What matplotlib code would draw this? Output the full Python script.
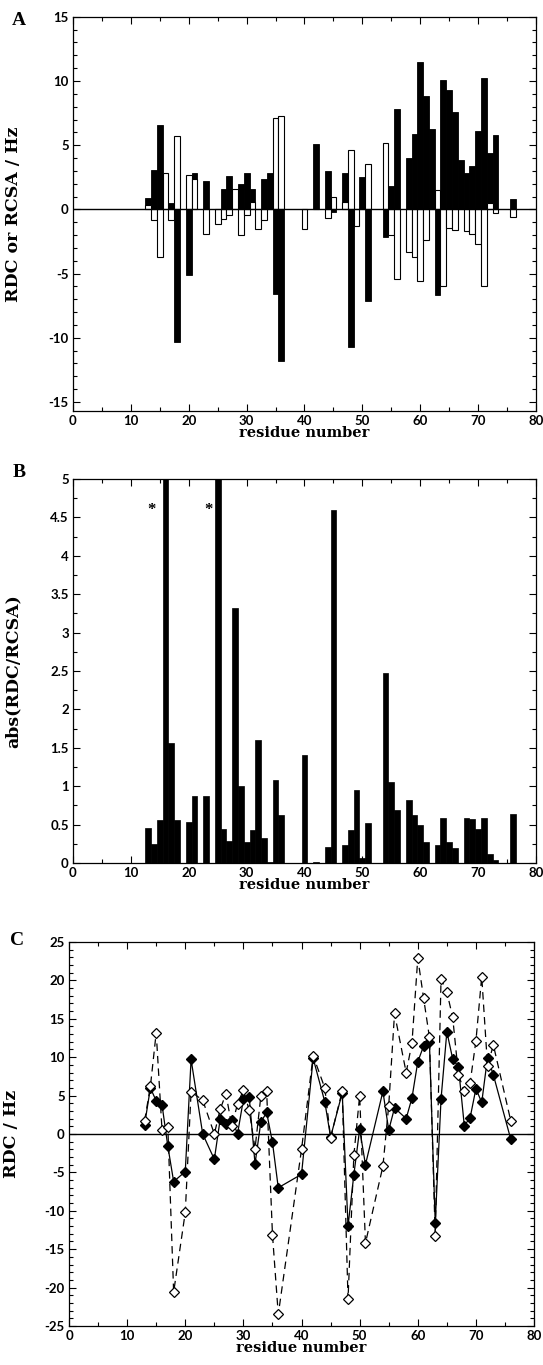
import numpy as np
import matplotlib
matplotlib.use("Agg")
import matplotlib.pyplot as plt
from matplotlib.ticker import MultipleLocator, FormatStrFormatter

# panel A: RDC (black) and RCSA (white) per residue
res_a = [13, 14, 15, 16, 17, 18, 20, 21, 23, 25, 26, 27, 28, 29, 30, 31, 32, 33, 34, 35, 36,
         40, 42, 44, 45, 47, 48, 49, 50, 51, 54, 55, 56, 58, 59, 60, 61, 62, 63, 64, 65, 66,
         67, 68, 69, 70, 71, 72, 73, 76]
rdc_a = [0.86, 3.1, 6.6, 0.0, 0.5, -10.3, -5.1, 2.8, 2.2, 0.0, 1.6, 2.6, 0.0, 2.0, 2.85, 1.55, 0.0, 2.4, 2.8, -6.6, -11.8,
         0.0, 5.1, 3.0, -0.23, 2.8, -10.75, 0.0, 2.5, -7.1, -2.15, 1.85, 7.8, 4.0, 5.9, 11.45, 8.8, 6.3, -6.7, 10.1, 9.3, 7.6,
         3.85, 2.8, 3.35, 6.1, 10.2, 4.4, 5.8, 0.83]
rcsa_a = [0.34, -0.8, -3.7, 2.8, -0.8, 5.7, 2.7, 2.4, -1.9, -1.1, -0.75, -0.45, 1.6, -2.0, -0.45, 0.6, -1.5, -0.86, 0.0, 7.1, 7.3,
          -1.5, 0.0, -0.65, 0.93, 0.6, 4.65, -1.3, 0.0, 3.56, 5.2, -2.0, -5.4, -3.3, -3.7, -5.6, -2.35, 0.0, 1.5, -6.0, -1.45, -1.6,
          0.0, -1.65, -1.95, -2.7, -6.0, 0.5, -0.25, -0.6]

# panel B: abs(RDC/RCSA)
res_b = [13, 14, 15, 16, 17, 18, 20, 21, 23, 25, 26, 27, 28, 29, 30, 31, 32, 33, 34, 35, 36,
         40, 42, 44, 45, 47, 48, 49, 50, 51, 54, 55, 56, 58, 59, 60, 61, 63, 64, 65, 66,
         68, 69, 70, 71, 72, 73, 76]
ratio_b = [0.455, 0.25, 0.555, 6.0, 1.56, 0.555, 0.53, 0.87, 0.87, 6.0, 0.44, 0.29, 3.32, 1.0, 0.27, 0.425, 1.6, 0.33, 0.01, 1.08, 0.62,
           1.4, 0.013, 0.21, 4.6, 0.23, 0.43, 0.95, 0.07, 0.52, 2.47, 1.06, 0.69, 0.82, 0.62, 0.49, 0.27, 0.23, 0.59, 0.27, 0.2,
           0.59, 0.57, 0.44, 0.58, 0.12, 0.04, 0.64]
star_res = [13.6, 23.4]

# panel C: filled and open diamonds
res_c = [13, 14, 15, 16, 17, 18, 20, 21, 23, 25, 26, 27, 28, 29, 30, 31, 32, 33, 34, 35, 36,
         40, 42, 44, 45, 47, 48, 49, 50, 51, 54, 55, 56, 58, 59, 60, 61, 62, 63, 64, 65, 66,
         67, 68, 69, 70, 71, 72, 73, 76]
filled_c = [1.2, 6.0, 4.3, 3.8, -1.6, -6.2, -4.9, 9.7, 0.0, -3.3, 1.9, 1.35, 1.8, 0.05, 4.5, 4.8, -3.9, 1.55, 2.8, -1.1, -7.0,
            -5.25, 9.85, 4.2, -0.4, 5.35, -12.0, -5.3, 0.6, -4.0, 5.55, 0.5, 3.4, 2.0, 4.7, 9.4, 11.45, 12.0, -11.6, 4.55, 13.3, 9.8,
            8.7, 1.1, 2.1, 5.9, 4.1, 9.95, 7.7, -0.7]
open_c = [1.7, 6.2, 13.2, 0.5, 0.9, -20.6, -10.2, 5.5, 4.4, 0.0, 3.2, 5.25, 1.0, 3.95, 5.7, 3.1, -1.9, 4.9, 5.55, -13.1, -23.5,
          -2.0, 10.2, 6.0, -0.5, 5.6, -21.5, -2.8, 5.0, -14.2, -4.2, 3.7, 15.7, 8.0, 11.85, 22.9, 17.7, 12.6, -13.3, 20.2, 18.5, 15.2,
          7.7, 5.55, 6.65, 12.1, 20.5, 8.85, 11.6, 1.7]

tick_font = {'family': 'Lato', 'weight': 'bold', 'size': 9.5}
xlabel_font = {'family': 'DejaVu Serif', 'weight': 'bold', 'size': 10.5}
ylabel_font = {'family': 'DejaVu Serif', 'weight': 'bold', 'size': 12.5}


def fix_ticklabels(ax):
    for lab in ax.get_xticklabels() + ax.get_yticklabels():
        lab.set_fontfamily(tick_font['family'])
        lab.set_fontweight(tick_font['weight'])
        lab.set_fontsize(tick_font['size'])


def style_axes(ax, ymajor, yminor, fmt, ylab_x):
    ax.set_xlim(0, 80)
    ax.xaxis.set_major_locator(MultipleLocator(10))
    ax.xaxis.set_minor_locator(MultipleLocator(5))
    ax.yaxis.set_major_locator(MultipleLocator(ymajor))
    ax.yaxis.set_minor_locator(MultipleLocator(yminor))
    ax.yaxis.set_major_formatter(FormatStrFormatter(fmt))
    ax.tick_params(which='both', direction='in', top=True, right=True, width=0.8, pad=3)
    ax.tick_params(which='major', length=5)
    ax.tick_params(which='minor', length=3)
    fix_ticklabels(ax)
    for s in ax.spines.values():
        s.set_linewidth(0.9)
    ax.set_xlabel('residue number', fontdict=xlabel_font, labelpad=-1)
    ax.yaxis.set_label_coords(ylab_x, 0.5)


fig = plt.figure(figsize=(5.43, 13.65), dpi=100)

# A
axA = fig.add_axes([0.1344, 0.6989, 0.8527, 0.2888])
axA.bar(res_a, rdc_a, width=1.0, color='black', edgecolor='black', linewidth=0.6)
axA.bar(res_a, rcsa_a, width=1.0, color='white', edgecolor='black', linewidth=0.8)
axA.axhline(0, color='black', linewidth=1.0)
axA.set_ylim(-15.7, 15)
axA.set_ylabel('RDC or RCSA / Hz', fontdict=ylabel_font)
style_axes(axA, 5, 1, '%g', -0.11)
axA.set_yticks(np.arange(-15, 16, 5))
fix_ticklabels(axA)
fig.text(0.035, 0.985, 'A', fontsize=14, fontweight='bold', family='Liberation Serif', va='center', ha='center')

# B
axB = fig.add_axes([0.1344, 0.3678, 0.8527, 0.2813])
axB.bar(res_b, ratio_b, width=1.0, color='black', edgecolor='black', linewidth=0.5)
axB.set_ylim(0, 5)
axB.set_ylabel('abs(RDC/RCSA)', fontdict=ylabel_font)
style_axes(axB, 0.5, 0.25, '%g', -0.11)
for r in star_res:
    axB.text(r, 4.6, '*', ha='center', va='center', fontsize=12, fontweight='bold', family='Liberation Serif')
fig.text(0.035, 0.654, 'B', fontsize=14, fontweight='bold', family='Liberation Serif', va='center', ha='center')

# C
axC = fig.add_axes([0.1271, 0.0286, 0.8564, 0.2813])
axC.axhline(0, color='black', linewidth=1.0)
axC.plot(res_c, filled_c, color='black', linewidth=0.9, marker='D', markersize=5.4,
         markerfacecolor='black', markeredgecolor='black')
axC.plot(res_c, open_c, color='black', linewidth=0.9, linestyle=(0, (6, 4)), marker='D', markersize=5.4,
         markerfacecolor='white', markeredgecolor='black', markeredgewidth=0.9)
axC.set_ylim(-25, 25)
axC.set_ylabel('RDC / Hz', fontdict=ylabel_font)
style_axes(axC, 5, 1, '%g', -0.105)
fig.text(0.032, 0.311, 'C', fontsize=14, fontweight='bold', family='Liberation Serif', va='center', ha='center')

fig.savefig('out.png', dpi=100)
